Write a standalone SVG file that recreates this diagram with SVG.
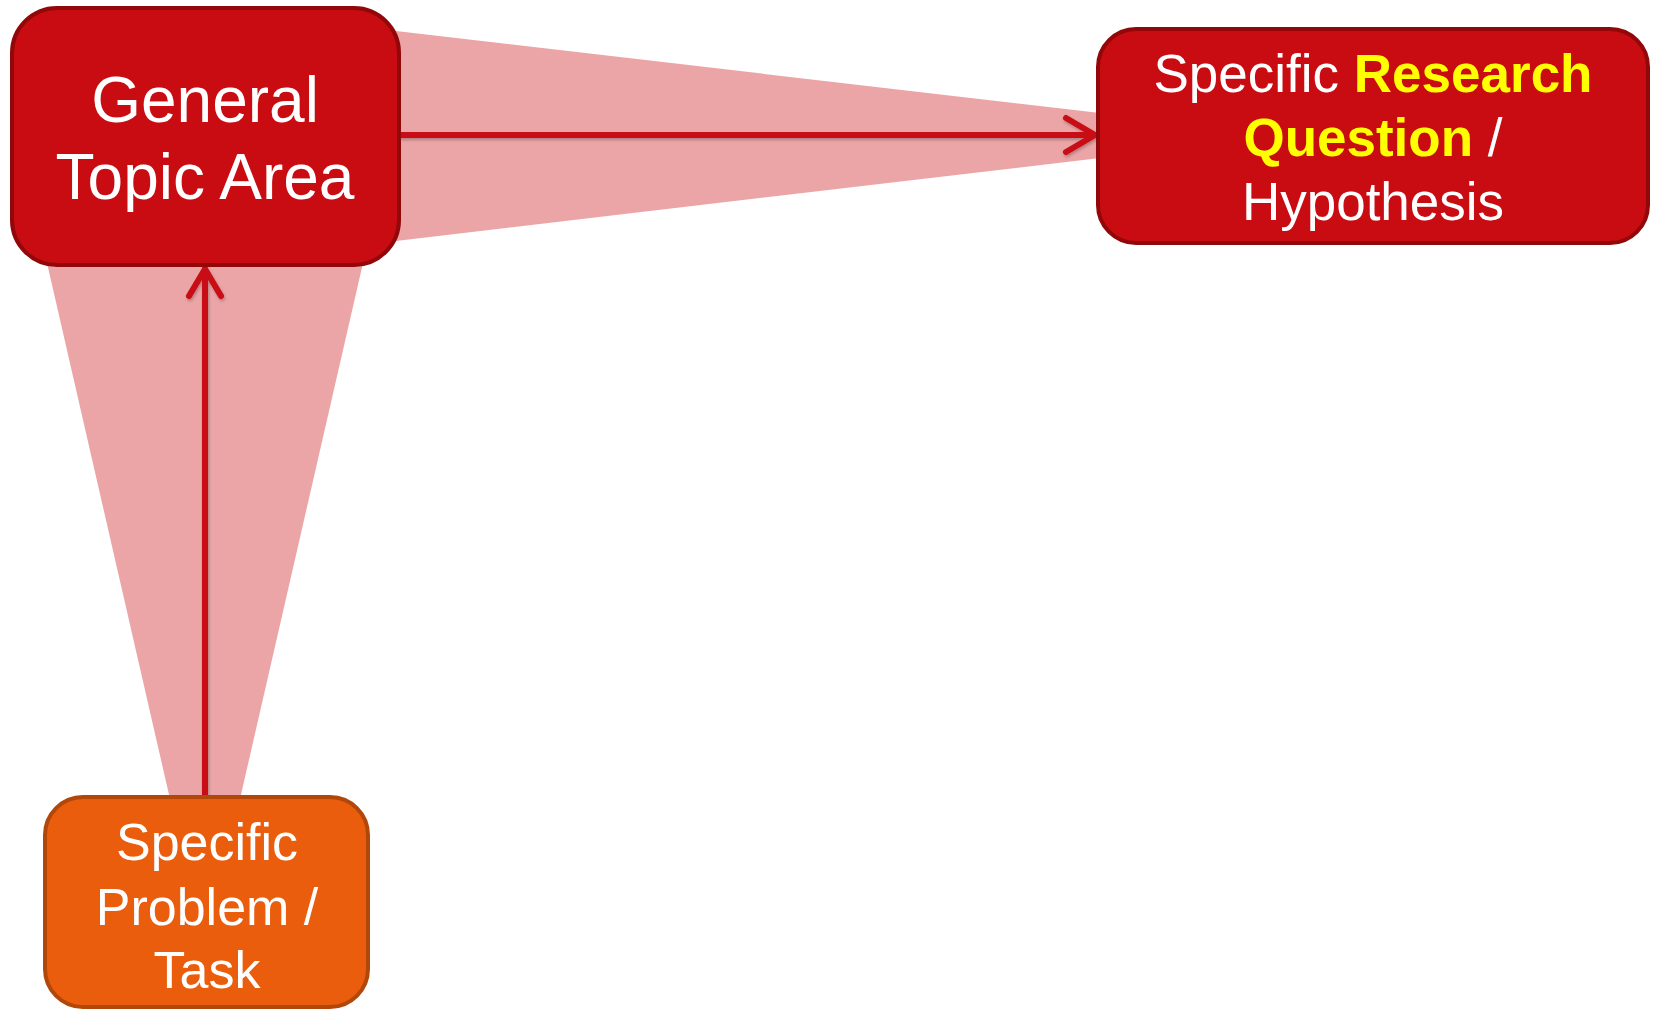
<svg xmlns="http://www.w3.org/2000/svg" width="1653" height="1011" viewBox="0 0 1653 1011">
<defs>
<style>
.band{fill:#eba5a7;}
.red{fill:#c80c12;stroke:#920709;stroke-width:4;}
.orange{fill:#e95d0d;stroke:#b1470a;stroke-width:4;}
.conn{stroke:#c80c12;stroke-width:6;fill:none;stroke-linecap:round;stroke-linejoin:round;}
.t{font-family:"Liberation Sans",Arial,sans-serif;fill:#ffffff;text-anchor:middle;}
.y{fill:#ffff00;font-weight:bold;}
</style>
<filter id="sh" x="-20%" y="-20%" width="140%" height="140%">
<feDropShadow dx="1" dy="2" stdDeviation="1.5" flood-color="#000" flood-opacity="0.25"/>
</filter>
</defs>
<rect width="1653" height="1011" fill="#ffffff"/>
<g id="bands">
<polygon class="band" points="396,31 1100,113 1100,158 396,241"/>
<polygon class="band" points="47,263 363,263 240,799 170,799"/>
</g>
<g id="connectors" filter="url(#sh)">
<line class="conn" x1="399" y1="135" x2="1095" y2="135"/>
<polyline class="conn" points="1066,118 1095,135 1066,152"/>
<line class="conn" x1="205" y1="797" x2="205" y2="269"/>
<polyline class="conn" points="189,296 205,269 221,296"/>
</g>
<g id="general-topic">
<rect class="red" x="12" y="8" width="387" height="257" rx="45" ry="45"/>
<text class="t" font-size="64"><tspan x="205" y="122">General</tspan><tspan x="205" y="199">Topic Area</tspan></text>
</g>
<g id="research-question">
<rect class="red" x="1098" y="29" width="550" height="214" rx="38" ry="38"/>
<text class="t" font-size="53"><tspan x="1373" y="92">Specific <tspan class="y">Research</tspan></tspan><tspan x="1373" y="156"><tspan class="y">Question</tspan> /</tspan><tspan x="1373" y="220">Hypothesis</tspan></text>
</g>
<g id="specific-problem">
<rect class="orange" x="45" y="797" width="323" height="210" rx="38" ry="38"/>
<text class="t" font-size="52"><tspan x="207" y="860">Specific</tspan><tspan x="207" y="925">Problem /</tspan><tspan x="207" y="988">Task</tspan></text>
</g>
</svg>
